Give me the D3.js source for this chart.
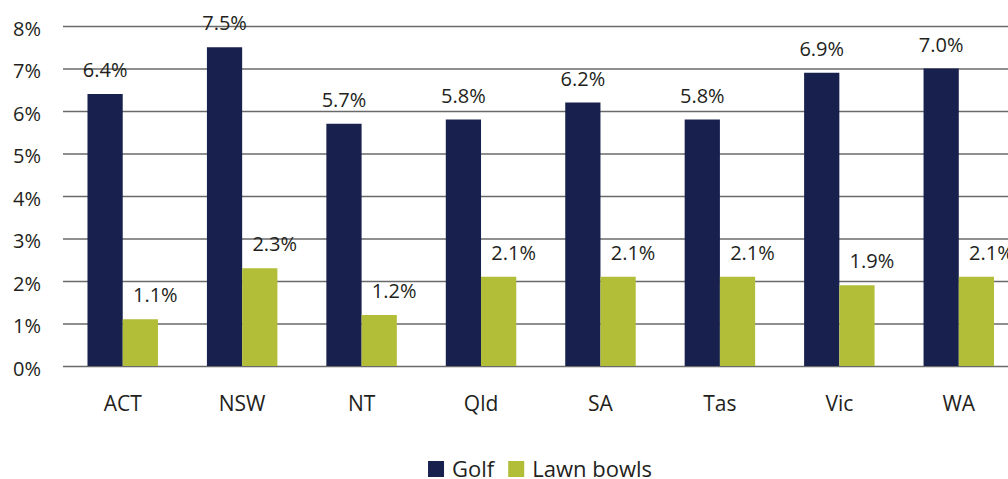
<!DOCTYPE html>
<html>
<head>
<meta charset="utf-8">
<script src="https://cdn.jsdelivr.net/npm/d3@7"></script>
<style>
  html, body { margin: 0; padding: 0; background: #ffffff; }
  svg { display: block; }
  text { font-family: "Open Sans", "Noto Sans", sans-serif; fill: #231f20; }
</style>
</head>
<body>
<svg id="chart" width="1008" height="479"></svg>
<script>
// Participation share by state / territory
const categories = ["ACT", "NSW", "NT", "Qld", "SA", "Tas", "Vic", "WA"];
const seriesNames = ["Golf", "Lawn bowls"];
const golf = [6.4, 7.5, 5.7, 5.8, 6.2, 5.8, 6.9, 7.0];
const lawnBowls = [1.1, 2.3, 1.2, 2.1, 2.1, 2.1, 1.9, 2.1];
const yTicks = [0, 1, 2, 3, 4, 5, 6, 7, 8];

const colors = { "Golf": "#18214d", "Lawn bowls": "#b2bd38" };

const svg = d3.select("#chart");

const plot = { left: 63, right: 1018.5, top: 26, bottom: 366 };
const gridEnd = 1012;

const x = d3.scaleBand()
  .domain(categories)
  .range([plot.left, plot.right])
  .paddingInner(0.41)
  .paddingOuter(0.205);

const xSub = d3.scaleBand()
  .domain(seriesNames)
  .range([0, x.bandwidth()])
  .padding(0);

const y = d3.scaleLinear()
  .domain([0, 8])
  .range([plot.bottom, plot.top]);

// Horizontal gridlines with percentage labels
const yAxis = d3.axisLeft(y)
  .tickValues(yTicks)
  .tickFormat(d => d + "%")
  .tickSize(-(gridEnd - plot.left))
  .tickPadding(22);

const gy = svg.append("g")
  .attr("transform", `translate(${plot.left},0)`)
  .call(yAxis);
gy.select(".domain").remove();
gy.selectAll(".tick line")
  .attr("stroke", "#6a6a6a")
  .attr("stroke-width", 1.3);
gy.selectAll(".tick text")
  .attr("font-size", 20)
  .attr("fill", "#231f20")
  .attr("dy", "0.45em")
  .style("font-family", '"Open Sans", "Noto Sans", sans-serif');

// Category labels beneath the bars
const xAxis = d3.axisBottom(x).tickSize(0).tickPadding(30);
const gx = svg.append("g")
  .attr("transform", `translate(0,${plot.bottom})`)
  .call(xAxis);
gx.select(".domain").remove();
gx.selectAll(".tick text")
  .attr("font-size", 21)
  .attr("fill", "#231f20")
  .style("font-family", '"Open Sans", "Noto Sans", sans-serif');

// Bars
const rows = categories.map((c, i) => ({
  category: c,
  values: [
    { series: "Golf", value: golf[i] },
    { series: "Lawn bowls", value: lawnBowls[i] }
  ]
}));

const groups = svg.append("g")
  .selectAll("g")
  .data(rows)
  .join("g")
  .attr("transform", d => `translate(${x(d.category)},0)`);

groups.selectAll("rect")
  .data(d => d.values)
  .join("rect")
  .attr("x", d => xSub(d.series))
  .attr("y", d => y(d.value))
  .attr("width", xSub.bandwidth())
  .attr("height", d => y(0) - y(d.value))
  .attr("fill", d => colors[d.series]);

// Value labels above each bar
const labelShift = { "Golf": 0, "Lawn bowls": 15 };
groups.selectAll("text.value")
  .data(d => d.values)
  .join("text")
  .attr("class", "value")
  .attr("x", d => xSub(d.series) + xSub.bandwidth() / 2 + labelShift[d.series])
  .attr("y", d => y(d.value) - 17)
  .attr("text-anchor", "middle")
  .attr("font-size", 20)
  .text(d => d.value.toFixed(1) + "%");

// Legend
const legend = svg.append("g").attr("class", "legend");
const sw = 16, gapText = 8, gapItem = 14;
let cursor = 0;
seriesNames.forEach(name => {
  const g = legend.append("g").attr("transform", `translate(${cursor},0)`);
  g.append("rect")
    .attr("x", 0).attr("y", -16)
    .attr("width", sw).attr("height", sw)
    .attr("fill", colors[name]);
  const t = g.append("text")
    .attr("x", sw + gapText).attr("y", 0)
    .attr("font-size", 22)
    .text(name);
  cursor += sw + gapText + t.node().getComputedTextLength() + gapItem;
});
const legendWidth = cursor - gapItem;
legend.attr("transform", `translate(${540 - legendWidth / 2},477)`);
</script>
</body>
</html>
